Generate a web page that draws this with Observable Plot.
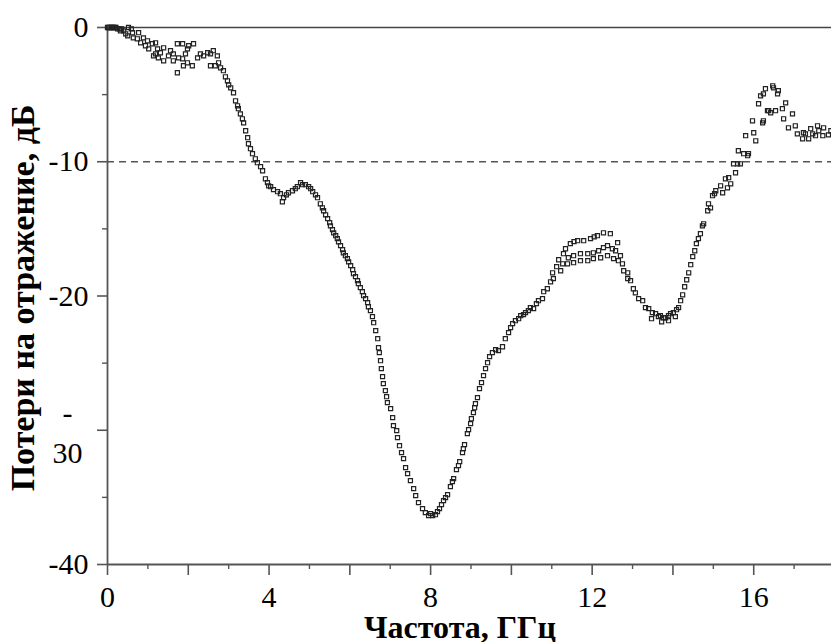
<!DOCTYPE html>
<html>
<head>
<meta charset="utf-8">
<script src="https://cdn.jsdelivr.net/npm/d3@7"></script>
<script src="https://cdn.jsdelivr.net/npm/@observablehq/plot@0.6"></script>
<style>
  html, body { margin: 0; padding: 0; background: #fff; }
  #chart svg { display: block; }
</style>
</head>
<body>
<div id="chart"></div>
<script>
// ---- Data: [frequency GHz, return loss dB] ----
const lowBand = [
  [0,0],[0.03,0],[0.06,0],[0.09,0],[0.12,0],[0.15,0],[0.18,0],[0.21,0],[0.25,-0.1],[0.30,-0.1],
  [0.32,-0.25],[0.35,-0.1],[0.40,-0.25],[0.45,-0.47],[0.50,-0.62],[0.52,0],[0.59,-0.1],[0.62,-0.39],
  [0.64,-0.77],[0.74,-0.84],[0.77,-0.39],[0.82,-1.14],[0.89,-0.77],[0.94,-1.36],[0.99,-0.99],
  [1.02,-1.59],[1.11,-1.21],[1.14,-2.11],[1.19,-1.14],[1.19,-1.96],[1.24,-1.59],[1.26,-2.26],
  [1.31,-1.88],[1.39,-1.51],[1.39,-2.48],[1.51,-2.11],[1.56,-1.73],[1.63,-1.96],[1.63,-2.48],
  [1.73,-1.21],[1.73,-3.37],[1.76,-2.26],[1.86,-1.21],[1.86,-2.33],[1.88,-2.85],[1.93,-1.96],
  [1.98,-1.59],[1.98,-2.63],[2.01,-1.36],[2.10,-2.85],[2.13,-1.21],[2.23,-2.26],[2.30,-1.96],
  [2.38,-2.11],[2.48,-1.88],[2.55,-1.96],[2.55,-2.85],[2.62,-1.73],[2.67,-2.85],[2.72,-2.11],
  [2.75,-2.63],[2.80,-3.00],[2.87,-3.22],[2.92,-3.67],[2.97,-3.97],[3.00,-4.27],[3.05,-4.49],
  [3.12,-4.86],[3.17,-5.46],[3.22,-5.83],[3.24,-6.05],[3.29,-6.43],[3.34,-6.80]
];
const mainDip = [
  [3.37,-7.10],[3.42,-7.69],[3.47,-8.21],[3.49,-8.66],[3.54,-9.03],[3.59,-9.40],[3.66,-9.78],
  [3.71,-10.07],[3.79,-10.37],[3.84,-10.67],[3.91,-11.27],[3.96,-11.56],[3.99,-11.79],[4.04,-11.86],
  [4.11,-12.08],[4.21,-12.23],[4.28,-12.38],[4.33,-12.98],[4.36,-12.68],[4.43,-12.46],[4.48,-12.31],
  [4.58,-12.16],[4.65,-12.01],[4.70,-11.86],[4.78,-11.56],[4.83,-11.71],[4.90,-11.71],[4.98,-11.86],
  [5.03,-12.01],[5.08,-12.23],[5.15,-12.46],[5.20,-12.68],[5.27,-13.13],[5.32,-13.43],[5.35,-13.65],
  [5.40,-13.95],[5.45,-14.24],[5.50,-14.54],[5.52,-14.77],[5.57,-15.06],[5.60,-15.29],[5.65,-15.51],
  [5.69,-15.73],[5.72,-15.96],[5.77,-16.25],[5.82,-16.55],[5.84,-16.78],[5.89,-17.00],[5.94,-17.22],
  [5.97,-17.45],[6.02,-17.74],[6.07,-18.04],[6.09,-18.34],[6.14,-18.56],[6.19,-18.86],[6.21,-19.08],
  [6.26,-19.38],[6.31,-19.68],[6.34,-19.98],[6.39,-20.20],[6.44,-20.50],[6.46,-20.80],[6.51,-21.09],
  [6.56,-21.54],[6.59,-21.99],[6.64,-22.58],[6.69,-23.18],[6.71,-23.85],[6.73,-24.22],[6.76,-24.82],
  [6.78,-25.41],[6.81,-26.01],[6.83,-26.53],[6.88,-27.05],[6.91,-27.50],[6.93,-27.94],[7.01,-28.39],
  [7.06,-29.06],[7.08,-29.66],[7.16,-30.03],[7.18,-30.55],[7.23,-31.15],[7.28,-31.67],[7.33,-32.11],
  [7.38,-32.78],[7.43,-33.23],[7.50,-33.75],[7.58,-34.35],[7.63,-34.87],[7.70,-35.39],[7.80,-35.84],
  [7.87,-36.14],[7.95,-36.36],[8.00,-36.21],[8.05,-36.36],[8.12,-36.29],[8.17,-36.06],[8.22,-35.84],
  [8.27,-35.54],[8.32,-35.24],[8.37,-35.02],[8.42,-34.80],[8.49,-34.20],[8.54,-33.83],[8.57,-33.60],
  [8.64,-32.93],[8.69,-32.63],[8.72,-32.34],[8.79,-31.67],[8.81,-31.37],[8.84,-31.07],[8.91,-30.25],
  [8.94,-29.96],[8.99,-29.51],[9.01,-29.14],[9.06,-28.69],[9.09,-28.32],[9.11,-28.02],[9.16,-27.57],
  [9.21,-26.90],[9.26,-26.45],[9.31,-25.93],[9.36,-25.41],[9.41,-24.97],[9.46,-24.52],[9.53,-24.22],
  [9.61,-24.00],[9.68,-24.07],[9.78,-23.78],[9.85,-23.18],[9.93,-22.73],[9.98,-22.36],[10.03,-22.06],
  [10.10,-21.84],[10.18,-21.69],[10.23,-21.47],[10.30,-21.39],[10.35,-21.24],[10.42,-21.09],
  [10.47,-20.87],[10.55,-20.94],[10.62,-20.57],[10.67,-20.35],[10.77,-20.20],[10.80,-19.68],
  [10.89,-19.46],[10.97,-18.94],[11.02,-18.27],[11.04,-18.71],[11.12,-17.82],[11.17,-17.30],
  [11.22,-18.12],[11.29,-16.85],[11.34,-16.48]
];
const peakUpper = [
  [11.46,-16.10],[11.55,-15.95],[11.64,-15.88],[11.79,-15.88],[11.96,-15.73],[12.05,-15.60],
  [12.13,-15.51],[12.28,-15.29],[12.45,-15.36],[12.63,-16.03]
];
const peakMiddle = [
  [11.41,-17.15],[11.54,-17.00],[11.71,-16.85],[11.89,-16.85],[12.03,-16.78],[12.16,-16.63],
  [12.28,-16.40],[12.38,-16.25],[12.50,-16.48],[12.58,-16.63],[12.70,-17.00]
];
const peakLower = [
  [11.27,-17.60],[11.39,-17.60],[11.54,-17.52],[11.71,-17.37],[11.89,-17.37],[12.03,-17.22],
  [12.21,-17.15],[12.38,-17.00],[12.53,-17.22],[12.65,-17.37],[12.75,-17.60]
];
const valley = [
  [12.78,-18.12],[12.88,-18.27],[12.88,-18.71],[12.95,-18.86],[13.02,-19.46],[13.07,-19.76],
  [13.15,-20.20],[13.25,-20.35],[13.32,-20.87],[13.40,-20.94],[13.47,-21.69],[13.49,-21.24],
  [13.57,-21.32],[13.64,-21.54],[13.69,-21.47],[13.72,-21.92],[13.77,-21.62],[13.82,-21.62],
  [13.89,-21.47],[13.89,-21.84],[13.94,-21.32],[14.01,-21.24],[14.06,-21.54],[14.09,-21.02],
  [14.14,-20.87]
];
const highRise = [
  [14.19,-20.35],[14.24,-19.91],[14.29,-19.31],[14.34,-18.79],[14.39,-18.27],[14.44,-17.67],
  [14.49,-17.07],[14.54,-16.63],[14.58,-16.10],[14.63,-15.73],[14.68,-15.36],[14.73,-14.77],
  [14.76,-14.62],[14.86,-13.65],[14.88,-13.13],[14.93,-13.43],[14.98,-12.53],[15.03,-12.38],
  [15.06,-12.16],[15.18,-11.79],[15.23,-12.31],[15.30,-11.27],[15.35,-11.94],[15.38,-11.19],
  [15.43,-11.64],[15.50,-10.15],[15.55,-10.82],[15.60,-10.15],[15.62,-9.18],[15.67,-10.15],
  [15.75,-9.40],[15.80,-8.06],[15.85,-9.55],[15.87,-9.40],[15.97,-6.95],[16.00,-7.84],
  [16.05,-8.44],[16.12,-5.68],[16.17,-5.09],[16.22,-7.10],[16.24,-4.94],[16.24,-6.95],
  [16.29,-4.56],[16.34,-6.20],[16.37,-6.20],[16.42,-6.35],[16.47,-4.34],[16.49,-4.49],
  [16.54,-6.20],[16.59,-4.94],[16.61,-4.71],[16.71,-6.05],[16.74,-6.80],[16.79,-5.61],
  [16.86,-7.47],[16.96,-6.43],[17.03,-7.32],[17.08,-7.92],[17.21,-8.29],[17.23,-7.84],
  [17.28,-7.92],[17.36,-8.29],[17.41,-7.54],[17.46,-7.92],[17.53,-8.06],[17.58,-7.32],
  [17.61,-7.69],[17.71,-8.06],[17.73,-7.47],[17.85,-8.00],[17.91,-7.69]
];

// ---- Axes values and tick labels ----
const yMajor = [0, -10, -20, -30, -40];
const yMinor = [-5, -15, -25, -35];
const xMajor = [0, 2, 4, 6, 8, 10, 12, 14, 16, 18];
const xMinor = [1, 3, 5, 7, 9, 11, 13, 15, 17];
const xTickLabels = [0, 4, 8, 12, 16];
const yTickLabels = [0, -10, -20, -40];
const ySplitLabel = [-30];
const refLevel = [-10];
const xTitle = "Частота, ГГц";
const yTitle = "Потери на отражение, дБ";

const points = [lowBand, mainDip, peakUpper, peakMiddle, peakLower, valley, highRise]
  .flat().map(([f, l]) => ({f, l}));

const serif = "'Liberation Serif', 'Times New Roman', 'DejaVu Serif', serif";
const axisColor = "#555";

const chart = Plot.plot({
  width: 831,
  height: 642,
  marginLeft: 107,
  marginRight: 0,
  marginTop: 27,
  marginBottom: 78,
  x: {domain: [0, 18], range: [107, 834]},
  y: {domain: [-40, 0]},
  style: {background: "#fff", overflow: "hidden"},
  marks: [
    Plot.ruleY(refLevel, {stroke: "#555", strokeWidth: 1.3, strokeDasharray: "7,5"}),
    Plot.ruleY([0], {stroke: "#444", strokeWidth: 1.6}),
    Plot.ruleY([-40], {stroke: axisColor, strokeWidth: 1.8}),
    Plot.ruleX([0], {stroke: axisColor, strokeWidth: 1.8}),
    Plot.axisY({ticks: yMajor, tickSize: 10, tickFormat: () => "", label: null, stroke: axisColor, strokeWidth: 1.6}),
    Plot.axisY({ticks: yMinor, tickSize: 5, tickFormat: () => "", label: null, stroke: axisColor, strokeWidth: 1.4}),
    Plot.axisX({ticks: xMajor, tickSize: 11, tickFormat: () => "", label: null, stroke: axisColor, strokeWidth: 1.6}),
    Plot.axisX({ticks: xMinor, tickSize: 5, tickFormat: () => "", label: null, stroke: axisColor, strokeWidth: 1.4}),
    Plot.text(yTickLabels, {
      y: d => d, text: d => String(d), frameAnchor: "left", dx: -19,
      textAnchor: "end", lineAnchor: "middle", fontSize: 30, fontFamily: serif, fill: "#000"
    }),
    Plot.text(ySplitLabel, {
      y: d => d, text: d => "-\n" + String(-d), frameAnchor: "left", dx: -40,
      textAnchor: "middle", lineAnchor: "middle", lineHeight: 1.35, fontSize: 30, fontFamily: serif, fill: "#000"
    }),
    Plot.text(xTickLabels, {
      x: d => d, text: d => String(d), frameAnchor: "bottom", dy: 33,
      textAnchor: "middle", lineAnchor: "middle", fontSize: 30, fontFamily: serif, fill: "#000"
    }),
    Plot.dot(points, {
      x: "f", y: "l", symbol: "square", r: 2.3,
      fill: "none", stroke: "#222", strokeWidth: 1.2
    })
  ]
});

const svg = d3.select(chart);
svg.append("text")
  .attr("x", 460).attr("y", 638)
  .attr("text-anchor", "middle")
  .attr("font-family", serif).attr("font-weight", "bold").attr("font-size", 32)
  .attr("fill", "#000")
  .text(xTitle);
svg.append("text")
  .attr("transform", "translate(34,298) rotate(-90)")
  .attr("text-anchor", "middle")
  .attr("font-family", serif).attr("font-weight", "bold").attr("font-size", 34)
  .attr("fill", "#000")
  .text(yTitle);

document.getElementById("chart").appendChild(chart);
</script>
</body>
</html>
